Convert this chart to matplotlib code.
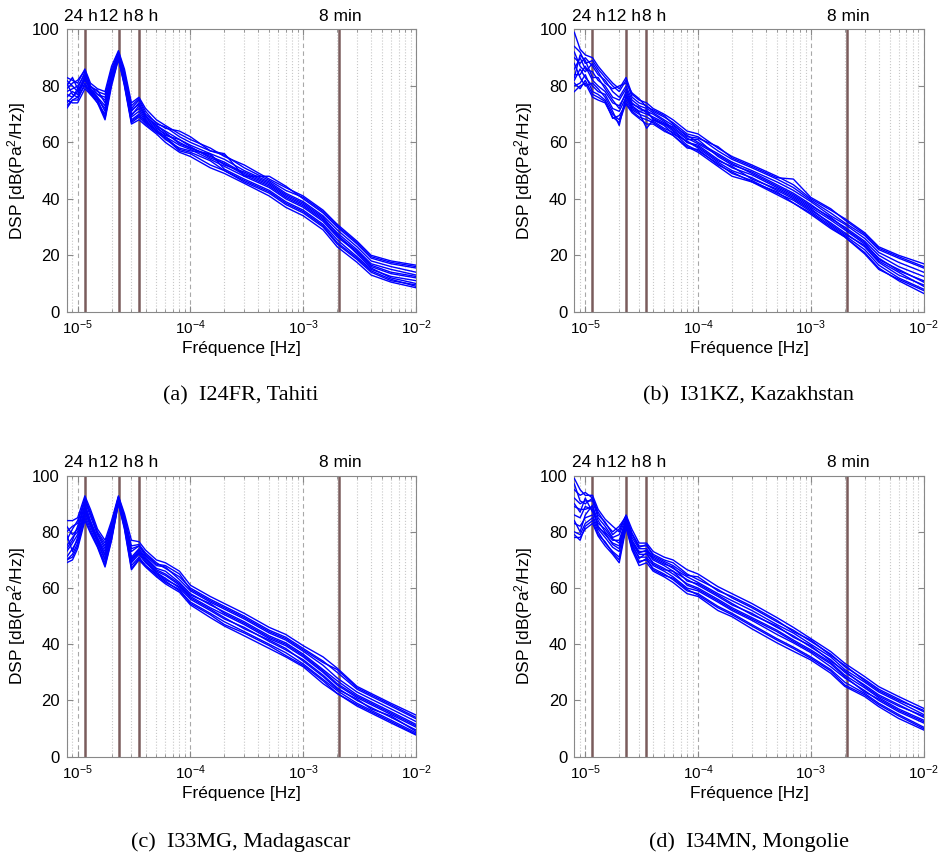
import matplotlib
matplotlib.use("Agg")
import matplotlib.pyplot as plt
import matplotlib.transforms as mtransforms
from matplotlib.ticker import LogLocator, NullFormatter

plt.rcParams["font.family"] = ["Liberation Sans", "DejaVu Sans"]
plt.rcParams["mathtext.default"] = "regular"
plt.rcParams["axes.unicode_minus"] = False

# frequency grid [Hz]
freq = [8e-6, 9e-6, 1.0e-5, 1.16e-5, 1.3e-5, 1.5e-5, 1.75e-5, 2.0e-5, 2.3e-5, 2.6e-5,
        3.0e-5, 3.5e-5, 4.0e-5, 5e-5, 6e-5, 8e-5, 1e-4, 1.5e-4, 2e-4, 3e-4,
        5e-4, 7e-4, 1e-3, 1.5e-3, 2e-3, 3e-3, 4e-3, 6e-3, 1e-2]

# PSD curves [dB], one list per day
tahiti = [
    [83, 82, 81, 86, 81, 79, 78, 87, 92.5, 86, 74, 76, 72, 68, 66, 63, 61, 58, 55, 52, 47, 44, 41, 36, 31, 25, 20, 18, 16.5],
    [80, 83, 79, 85, 80, 78, 77, 86, 92, 85, 72, 75, 70, 67, 65, 64, 62, 57, 56, 48, 48, 44.5, 40, 35, 30, 24, 19, 17, 15.5],
    [78, 79, 80, 84, 79, 77, 75, 85, 91.5, 84, 71, 74, 69, 66, 64, 61, 59, 56, 54, 50, 46, 42, 39, 34, 29, 23, 18, 16, 14],
    [76, 78, 77, 83, 78, 76, 73, 84, 91, 83, 70, 72, 68, 65, 63, 60, 58, 55, 53, 49, 45, 41, 38, 33, 28, 22, 17, 15, 13],
    [74, 76, 78, 82, 79, 76, 71, 83, 90.5, 82, 69, 71, 67.5, 64.5, 62, 59, 57.5, 54, 51.5, 48, 44, 40, 37, 32, 26.5, 21, 16, 13.5, 12],
    [72, 75, 75, 81, 78, 74, 70, 82, 90, 81, 68, 70, 67, 64, 61, 58, 57, 56, 50.5, 47, 43, 39, 36, 31, 25.5, 19.5, 15, 12.5, 11],
    [81, 77, 76, 80, 77, 75, 69, 81, 89.5, 80.5, 67, 69, 66.5, 63.5, 61.5, 57, 56, 52, 50, 46, 42, 38, 35, 30, 24, 18.5, 14, 11, 9.5],
    [75, 74, 74, 79, 77, 74, 68, 80, 89.5, 80, 66.5, 68, 66, 63, 60, 56.5, 55, 51, 49, 45.5, 41, 37, 34, 29, 23, 17.5, 13, 10.5, 8.5],
    [79, 81, 82, 85.5, 80, 77, 76, 84, 92, 84.5, 73, 75.5, 71, 66.5, 65.5, 62, 60, 57, 55.5, 51, 46.5, 43, 40.5, 35.5, 30.5, 24.5, 19.5, 17.5, 16],
    [73, 75, 76, 82.5, 78.5, 75.5, 72, 83.5, 91, 82.5, 69.5, 73, 68.5, 65.5, 62.5, 61, 58.5, 54.5, 52.5, 48.5, 44.5, 40.5, 37.5, 32.5, 27, 21.5, 16.5, 14, 12.5],
    [82, 80, 78, 83.5, 79.5, 78.5, 74, 82.5, 90.5, 81.5, 71.5, 73.5, 69.5, 66, 63.5, 59.5, 58, 55.5, 52, 49.5, 45.5, 41.5, 38.5, 33.5, 27.5, 20.5, 15.5, 12, 10],
    [77, 76, 79, 80.5, 77.5, 75, 68.5, 81.5, 90, 81, 67.5, 69.5, 67.5, 64, 62, 57.5, 56.5, 53.5, 50, 46.5, 42.5, 38.5, 35.5, 30.5, 24.5, 19, 14.5, 11.5, 9],
]
kazakhstan = [
    [99, 93, 91, 90, 87, 84, 81, 79, 83, 77, 75, 74, 72, 70, 68, 64, 63, 58, 55, 52, 48, 45, 40, 36, 33, 28, 23, 20, 17],
    [94, 92, 88, 89, 86, 83, 80, 78, 82, 76, 74, 73, 71, 69, 67, 63, 62, 57, 54, 51, 47, 44, 39.5, 35, 31.5, 27, 22, 19, 15.5],
    [90, 88, 90, 87, 84, 82, 78, 76, 80, 75, 73, 72, 70.5, 68, 66, 62.5, 60, 56, 53, 50, 46, 43, 39, 34, 31, 26, 21, 17.5, 14],
    [86, 90, 86, 85, 82, 80, 76, 75, 79, 74, 72, 71, 70, 67.5, 65, 61, 61, 55, 52, 49.5, 45, 42, 38, 33, 30, 25, 20, 16, 12.5],
    [84, 84, 87, 82, 80, 78, 74, 73, 77, 73, 71, 70, 69, 67, 64.5, 60, 59, 54, 51, 48.5, 44, 41, 37, 32.5, 29, 24, 19, 14.5, 11],
    [82, 86, 83, 80, 78, 77, 72, 71, 76, 72, 70.5, 65, 68, 66, 63, 60.5, 58, 53, 50, 47.5, 43, 40, 36, 31.5, 28, 23, 17.5, 13, 9.5],
    [80, 81, 84, 78, 77, 75, 70, 68, 75, 71.5, 70, 69, 67.5, 65, 63.5, 59, 57, 52.5, 49, 46.5, 42, 39.5, 35.5, 30.5, 27, 22, 16.5, 12, 8],
    [78, 80, 81, 76, 75, 74, 69, 67, 74, 71, 69, 68, 67, 64.5, 62.5, 58.5, 56.5, 51.5, 48, 46, 41.5, 38.5, 34.5, 29.5, 26.5, 21, 15.5, 11, 6.5],
    [92, 87, 85, 88, 85, 81, 79, 80, 81, 77.5, 75.5, 72.5, 71.5, 69.5, 66.5, 62, 61.5, 58.5, 54.5, 51.5, 47.5, 47, 40.5, 36.5, 32.5, 27.5, 22.5, 19.5, 16],
    [83, 91, 89, 83, 83, 79, 75, 72, 78, 73.5, 72.5, 70.5, 68.5, 66.5, 65.5, 61.5, 59.5, 55.5, 52.5, 49, 44.5, 41.5, 37.5, 33.5, 29.5, 24.5, 18.5, 15, 10.5],
    [88, 83, 80, 81, 79, 76, 71, 66, 76.5, 72.5, 71, 71.5, 68, 66.5, 64, 60, 58.5, 53.5, 51.5, 47, 43.5, 40.5, 36.5, 31, 27.5, 23.5, 18, 14, 9],
    [81, 79, 82, 77, 76, 74.5, 68.5, 69.5, 73.5, 70.5, 68.5, 66.5, 66.5, 64, 62.5, 58, 57.5, 52, 49.5, 46, 42.5, 38.5, 35, 30, 26.5, 20.5, 15, 11.5, 7.5],
]
madagascar = [
    [84, 84, 85, 92.8, 88, 81, 77, 84, 92.8, 86.5, 77, 76.5, 73.5, 70, 69, 66, 61, 57, 54.5, 51, 46, 43.5, 39.5, 35.5, 31.5, 25, 22.5, 19, 14.8],
    [80, 82, 83, 92, 87, 80, 76, 83, 92.5, 85.5, 75, 75.5, 72.5, 69, 67, 64, 60, 56, 53.5, 50, 45, 42.5, 38.5, 34, 30, 24, 21.5, 18, 13.5],
    [77, 81, 84, 91, 85.5, 79, 74, 82, 92, 85, 73, 75, 71.5, 68, 67.5, 63, 59, 55, 52.5, 49, 44, 41.5, 37.5, 32.5, 28, 23, 20.5, 17, 12.5],
    [75, 78, 80, 90, 84, 78, 73, 81, 91.5, 84, 71, 74, 71, 67, 66, 62, 58, 54, 51.5, 48, 43, 40.5, 36.5, 31, 27, 22, 19.5, 16, 11.5],
    [73, 76, 79, 88.5, 83, 77, 71.5, 80, 91, 83.5, 70, 73, 70, 66, 64.5, 61, 57, 53, 50.5, 47, 42, 39.5, 35.5, 30, 25.5, 21, 18.5, 15, 10.5],
    [71, 74, 77, 87, 82, 76, 70, 79, 91, 83, 69, 72, 69, 65.5, 63.5, 60, 56, 52, 49, 46, 41, 38, 34.5, 29, 24.5, 20, 17.5, 14, 9.5],
    [70, 72, 76, 86, 81, 75, 69, 78, 90.5, 82, 68, 71, 68, 65, 62.5, 59, 55, 51, 48, 44.5, 40, 37, 33, 27.5, 23.5, 19, 16.5, 13, 8.5],
    [69, 70, 74, 84, 79.5, 74.5, 67.5, 77, 90, 81, 66.5, 70, 67.5, 64, 61.5, 58.5, 54, 49.5, 46.5, 43, 38.5, 35.5, 32, 26, 22.5, 18, 15.5, 12, 7.7],
    [82, 79, 81, 91.5, 86.5, 79.5, 75, 82.5, 92.3, 85, 74, 75, 72, 68.5, 68, 65, 59.5, 55.5, 53, 49.5, 44.5, 42, 38, 33.5, 31, 24.5, 22, 18.5, 14],
    [74, 77, 82, 89, 83.5, 77.5, 72, 80.5, 91.2, 83.5, 70.5, 73.5, 70.5, 66.5, 65, 61.5, 57.5, 54.5, 51, 47.5, 42.5, 40, 36, 30.5, 26, 21.5, 19, 15.5, 11],
    [79, 73, 78, 87.5, 82.5, 76.5, 70.5, 79.5, 90.8, 82.5, 69.5, 72.5, 69.5, 65.5, 63, 60.5, 56.5, 52.5, 49.5, 45.5, 41.5, 38.5, 34, 28.5, 24, 20.5, 17, 14.5, 9],
    [70, 71, 75, 85, 80, 75, 68, 77.5, 90.2, 81.5, 67, 70.5, 68, 64.5, 62, 59.5, 54.5, 50.5, 47, 44, 39.5, 36, 32.5, 27, 22.5, 18.5, 16, 12.5, 8],
]
mongolie = [
    [99, 95, 93, 93, 88, 84.5, 82, 80, 86, 80.8, 76, 76, 73, 71, 70, 66.5, 65, 60.5, 58, 54.5, 49.5, 46, 42, 37.4, 33.2, 28.5, 24.9, 21.4, 17.2],
    [95, 93, 94, 92, 87, 83, 80, 82, 85.5, 79.5, 75, 75, 72, 70, 69, 65, 63, 59.5, 56.5, 53, 48, 45, 41, 36.5, 32, 27.5, 24, 20.5, 16],
    [92, 90, 91, 91, 85, 82, 78, 79, 85, 78, 74, 74, 71, 69, 67, 64, 62, 58, 55.5, 52, 47, 44, 40, 35.5, 31, 26.5, 23, 19.5, 15],
    [89, 88, 88, 89, 84, 80, 77, 77, 84.5, 77, 73, 73, 70, 68, 66, 63, 61, 57, 54, 51, 46, 43, 39, 34.5, 30, 25.5, 22, 18.5, 14],
    [86, 85, 89, 88, 82, 79, 76, 75, 84, 76, 72, 72, 69, 67, 65, 61.5, 60, 56, 53, 49.5, 45, 41.5, 38, 33.5, 29, 24.5, 21, 17, 13],
    [83, 82, 85, 86, 81, 78, 74.5, 73, 83, 75, 71, 71, 68, 66, 64, 60, 59, 55, 52, 48.5, 43.5, 40.5, 37, 32, 28, 23.5, 20, 16, 12],
    [80, 79, 83, 85, 80, 76, 73, 71, 82, 74, 69.5, 70, 67, 65, 63, 59, 58, 53.5, 51, 47, 42, 39, 35.5, 31, 26.5, 22.5, 19, 15, 10.5],
    [78, 78, 81, 83, 78.5, 75, 72, 69, 81.5, 73.5, 68, 69, 66, 64, 62, 58, 57, 52, 49.8, 45.5, 40.5, 37.5, 34.4, 29.7, 25, 21.4, 17.8, 13.6, 9.5],
    [97, 91, 90, 92, 86, 83.5, 79, 81, 85.8, 79, 74.5, 75.5, 71.5, 69.5, 68, 64.5, 64, 59, 57, 53.5, 48.5, 44.5, 41.5, 36, 32.5, 27, 23.5, 20, 16.5],
    [90, 87, 92, 87, 83, 81, 77.5, 76, 84.2, 76.5, 72.5, 73.5, 70.5, 68.5, 67.5, 62.5, 61.5, 57.5, 54.5, 50.5, 46.5, 42.5, 39.5, 34, 30.5, 25, 21.5, 18, 14.5],
    [84, 80, 86, 89.5, 81.5, 79.5, 75.5, 74, 83.5, 75.5, 70.5, 72.5, 68.5, 66.5, 66, 61, 59.5, 55.5, 52.5, 49, 44.5, 41, 37.5, 33, 28.5, 23, 20.5, 16.5, 12.5],
    [79, 77, 82, 84, 79, 76.5, 72.5, 70, 82.5, 74.5, 69, 70.5, 66.5, 64.5, 63.5, 59.5, 57.5, 53, 50.5, 46.5, 41.5, 38.5, 35, 30.5, 25.5, 22, 18.5, 14.5, 10],
]

captions = ["(a)  I24FR, Tahiti", "(b)  I31KZ, Kazakhstan",
            "(c)  I33MG, Madagascar", "(d)  I34MN, Mongolie"]
stations = [tahiti, kazakhstan, madagascar, mongolie]

# tidal periods and 8 min marker
periods = [86400, 43200, 28800, 480]
period_labels = ["24 h", "12 h", "8 h", "8 min"]
label_freqs = [1.07e-5, 2.19e-5, 4.04e-5, 2.15e-3]

positions = [[0.0711, 0.6354, 0.3724, 0.3301], [0.6123, 0.6354, 0.3724, 0.3301],
             [0.0711, 0.1150, 0.3724, 0.3287], [0.6123, 0.1150, 0.3724, 0.3287]]
caption_xy = [(0.2565, 0.5368), (0.7985, 0.5368), (0.2565, 0.0155), (0.7985, 0.0155)]

fig = plt.figure(figsize=(9.38, 8.55), dpi=100)

for i in range(4):
    ax = fig.add_axes(positions[i])
    ax.set_xscale("log")
    for c in stations[i]:
        ax.plot(freq, c, color="#0000ff", linewidth=1.0, zorder=3)
    for p in periods:
        ax.axvline(1.0 / p, color="#7a5c5c", linewidth=1.8, zorder=2)
    trans = mtransforms.blended_transform_factory(ax.transData, ax.transAxes)
    for lf, lab in zip(label_freqs, period_labels):
        ax.text(lf, 1.02, lab, transform=trans, ha="center", va="bottom", fontsize=12.5)

    ax.set_xlim(8e-6, 1e-2)
    ax.set_ylim(0, 100)
    ax.set_yticks([0, 20, 40, 60, 80, 100])
    ax.xaxis.set_major_locator(LogLocator(base=10, numticks=10))
    ax.xaxis.set_minor_locator(LogLocator(base=10, subs=range(2, 10), numticks=20))
    ax.xaxis.set_minor_formatter(NullFormatter())
    ax.grid(True, which="major", axis="x", color="#a8a8a8", linestyle=(0, (4, 3)), linewidth=0.8)
    ax.grid(True, which="minor", axis="x", color="#c8c8c8", linestyle=":", linewidth=0.8)
    ax.set_axisbelow(True)
    ax.tick_params(which="both", direction="in", top=True, right=True, color="#888888",
                   labelcolor="black")
    ax.tick_params(axis="x", labelsize=11)
    ax.tick_params(axis="y", labelsize=12)
    ax.tick_params(which="major", length=4, pad=5)
    ax.tick_params(which="minor", length=2)
    for s in ax.spines.values():
        s.set_color("#888888")
        s.set_linewidth(0.8)
    ax.set_xlabel("Fréquence [Hz]", fontsize=12.5, labelpad=3)
    ax.set_ylabel("DSP [dB(Pa$^2$/Hz)]", fontsize=12.5, labelpad=3)

    fig.text(caption_xy[i][0], caption_xy[i][1], captions[i], ha="center", va="center",
             fontsize=16, family=["Liberation Serif", "DejaVu Serif"])

fig.savefig("out.png", dpi=100)
